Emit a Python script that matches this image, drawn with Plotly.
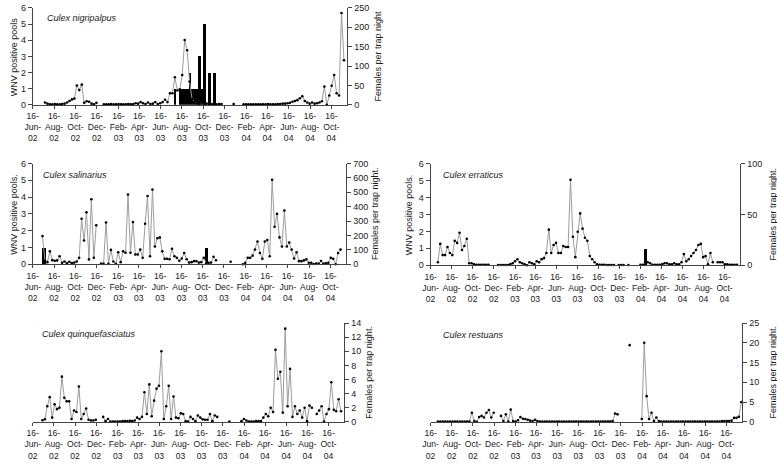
import datetime as dt
import plotly.graph_objects as go

# ---------------- data ----------------
START = dt.date(2002, 6, 16)
N_WEEKS = 129
week_dates = [START + dt.timedelta(days=7 * i) for i in range(N_WEEKS)]

tick_dates = ["2002-06-16", "2002-08-16", "2002-10-16", "2002-12-16", "2003-02-16",
              "2003-04-16", "2003-06-16", "2003-08-16", "2003-10-16", "2003-12-16",
              "2004-02-16", "2004-04-16", "2004-06-16", "2004-08-16", "2004-10-16"]
tick_labels = ["16-<br>Jun-<br>02", "16-<br>Aug-<br>02", "16-<br>Oct-<br>02", "16-<br>Dec-<br>02",
               "16-<br>Feb-<br>03", "16-<br>Apr-<br>03", "16-<br>Jun-<br>03", "16-<br>Aug-<br>03",
               "16-<br>Oct-<br>03", "16-<br>Dec-<br>03", "16-<br>Feb-<br>04", "16-<br>Apr-<br>04",
               "16-<br>Jun-<br>04", "16-<br>Aug-<br>04", "16-<br>Oct-<br>04"]

_ = None
# Females per trap night (weekly), w0..w128
nigripalpus = [
    _, _, _, _, _, 6, 3, 1, 1, 2,                      # w0-9
    1, 1, 2, 3, 6, 10, 14, 16, 50, 38,                 # w10-19
    52, 5, 9, 8, 3, 1, 5, _, _, 1,                     # w20-29
    1, 1, 2, 1, 1, 2, 1, 1, 1, 2,                      # w30-39
    1, 2, 4, 3, 7, 4, 2, 6, 2, 3,                      # w40-49
    7, 2, 4, 7, 13, 7, 30, 30, 71, 37,                 # w50-59
    40, 77, 167, 141, 60, 15, 8, 4, 3, 5,              # w60-69
    2, 3, 1, 2, 1, 1, 2, 2, _, _,                      # w70-79
    _, _, 2, _, _, _, 1, 1, 1, 1,                      # w80-89
    1, 1, 1, 1, 1, 1, 2, 1, 1, 1,                      # w90-99
    2, 2, 3, 3, 4, 5, 8, 10, 12, 17,                   # w100-109
    22, 10, 6, 3, 6, 3, 4, 6, 9, 47,                   # w110-119
    0, 24, 49, 77, 30, 24, 237, 115, _,                # w120-128
]
salinarius = [
    _, _, _, _, 196, 25, 15, 90, 29, 25,
    27, 56, 10, 20, 8, 18, 8, 12, 20, 45,
    316, 165, 361, 34, 452, 45, 271, _, 5, 3,
    290, 3, 100, 20, 3, 84, 15, 90, 80, 485,
    80, 293, 68, 68, 102, 45, 282, 474, 56, 519,
    124, 181, 187, 90, 38, 38, 35, 108, 56, 45,
    25, 40, 79, 35, 12, 15, 22, 22, 12, 15,
    45, 5, 10, 12, 52, 28, _, _, _, _,
    _, 18, _, _, _, _, 0, 10, 45, 45,
    60, 102, 158, 79, 38, 158, 169, 56, 587, 260,
    350, 187, 124, 373, 124, 151, 102, 40, 83, 22,
    22, 27, 34, 11, 11, 2, 5, 5, 23, 5,
    7, 11, 45, 38, 0, 79, 102, _, _,
]
quinquefasciatus = [
    _, _, _, _, 0.23, 0.37, 2.2, 3.5, 0.6, 2.5,
    1.8, 2.0, 6.4, 3.4, 2.9, 2.9, 0.4, 1.6, 1.4, 5.0,
    0.4, 1.1, 1.9, 0.3, 0.2, 0.2, 0.3, _, _, 0.7,
    0.1, 0.4, 0.05, 0.05, 0.05, 0.05, 0.05, 0.1, 0.1, 0.1,
    0.15, 0.1, 0.2, 0.6, 0.4, 0.7, 4.2, 1.1, 5.3, 0.8,
    3.0, 4.7, 5.1, 10.0, 0.4, 2.2, 5.1, 0.4, 3.6, 0.6,
    0.5, 1.2, 1.1, 0.1, 0.05, 0.7, 0.4, 0.1, 0.9, 0.6,
    0.35, 0.3, 0.3, 1.1, 0.1, 0.9, 0.7, _, _, _,
    _, 0.05, _, _, _, _, 0.1, 0.4, 0.2, 0.05,
    0.05, 0.05, 0.1, 0.1, 0.1, 0.6, 1.1, 0.8, 2.0, 1.4,
    10.2, 6.1, 7.1, 1.3, 13.2, 2.2, 7.5, 0.7, 2.2, 1.1,
    1.6, 0.6, 2.0, 0.1, 2.3, 2.0, _, 1.1, 1.6, 2.2,
    0.05, 1.1, 1.8, 5.6, 1.7, 1.5, 3.2, 1.5, _,
]
erraticus = [
    _, _, _, 3, 21, 10, 10, 18, 12, 10,
    24, 22, 32, 15, 19, 26, 2, 2, 1, 0.5,
    0.5, 0.5, 0.5, 0.5, 0.5, _, _, _, 0.3, 0.3,
    0.3, 0.3, 0.3, 1, 2, 4, 6, 3, 2, 1,
    0, 3, 2, 1, 4, 3, 6, 7, 12, 35,
    12, 20, 22, 12, 12, 19, 18, 18, 84, 28,
    8, 33, 51, 36, 27, 24, 9, 6, 3, 1,
    0.5, 0.5, 0.5, 0.3, 0.3, 0.3, 0.3, _, 0.3, 0.3,
    0.3, _, 0.3, _, _, _, _, 0.5, 0.5, 3,
    3, 2, 0.5, 0.5, 0.5, 0.5, 1, 2, 2, 1,
    1, 2, 1, 1, 3, 11, 4, 6, 9, 12,
    15, 20, 21, 8, 9, 1, 12, 3, _, 3,
    3, 3, 1, 1, 0.5, 0.5, 0.5, 0.5, _,
]
restuans = [
    _, _, _, 0.05, 0.05, 0.05, 0.05, 0.05, 0.05, 0.05,
    0.05, 0.05, 0.05, 0.05, 0.05, 0.05, 0.05, 2.3, 0.2, 0,
    1.2, 1.5, 1.1, 2.3, 3.0, 1.1, 2.3, _, _, 1.5,
    0.2, 1.9, 0.1, 3.1, 0.2, 0.1, 0.4, 1.2, 0.8, 0.7,
    0.5, 0.3, 0.2, 0.5, 0.2, 0.05, 0.05, 0.05, 0.05, 0.05,
    0.05, 0.05, 0.05, 0.05, 0.05, 0.05, 0.05, 0.05, 0.05, 0.05,
    0.05, 0.05, 0.05, 0.05, 0.05, 0.05, 0.05, 0.05, 0.05, 0.05,
    0.05, 0.05, 0.05, 0.05, 0.05, 0.2, 2.1, 1.9, _, _,
    _, _, 19.4, _, _, _, _, 0.7, 20.0, 6.5,
    0.7, 2.3, 0.2, 1.1, 0.2, 0.05, 0.05, 0.05, 0.05, 0.05,
    0.05, 0.05, 0.05, 0.05, 0.05, 0.05, 0.05, 0.05, 0.05, 0.05,
    0.05, 0.05, 0.05, 0.05, 0.05, 0.05, 0.05, 0.05, 0.05, 0.05,
    0.2, 0.2, 0.2, 0.2, 0.3, 1.0, 1.0, 1.3, 5.0,
]

# WNV positive pools (week index, pools)
nig_pool_weeks = [58, 60, 61, 62, 63, 64, 65, 66, 67, 68, 69, 70, 72, 74]
nig_pool_counts = [1, 1, 1, 1, 1, 2, 1, 1, 1, 3, 1, 5, 2, 2]
sal_pool_weeks = [4, 5, 71]
sal_pool_counts = [1, 1, 1]
err_pool_weeks = [89]
err_pool_counts = [1]

# ---------------- figure ----------------
W, H = 777, 465
FONT = "Liberation Sans, Arial, sans-serif"
AXC = "#444444"
LINEC = "#9c9c9c"
TXT = "#1a1a1a"


def fx(px):
    return px / W


def fy(py):
    return 1 - py / H


fig = go.Figure()

panels = [
    dict(name="Culex nigripalpus", data=nigripalpus, pw=nig_pool_weeks, pc=nig_pool_counts,
         x0=25, x1=343, ytop=3, ybot=102, fmax=250, fdt=50, left=True,
         ltitle="WNV positive pools", rtitle="Females per trap night",
         lt_x=6, rt_x=374, tt=(37, 13)),
    dict(name="Culex salinarius", data=salinarius, pw=sal_pool_weeks, pc=sal_pool_counts,
         x0=25, x1=342, ytop=162, ybot=265, fmax=700, fdt=100, left=True,
         ltitle="WNV positive pools.", rtitle="Females per trap night.",
         lt_x=6, rt_x=371, tt=(33, 174)),
    dict(name="Culex erraticus", data=erraticus, pw=err_pool_weeks, pc=err_pool_counts,
         x0=427, x1=740, ytop=162, ybot=266, fmax=100, fdt=50, left=True,
         ltitle="WNV positive pools.", rtitle="Females per trap night.",
         lt_x=406, rt_x=773, tt=(438, 174)),
    dict(name="Culex quinquefasciatus", data=quinquefasciatus, pw=None, pc=None,
         x0=25, x1=340, ytop=325, ybot=426, fmax=14, fdt=2, left=False,
         ltitle=None, rtitle="Females per trap night.",
         lt_x=None, rt_x=365, tt=(32, 336)),
    dict(name="Culex restuans", data=restuans, pw=None, pc=None,
         x0=427, x1=742, ytop=325, ybot=426, fmax=25, fdt=5, left=False,
         ltitle=None, rtitle="Females per trap night.",
         lt_x=None, rt_x=773, tt=(438, 337)),
]

annotations = []
yidx = 0
layout_axes = {}
for i, p in enumerate(panels):
    xi = i + 1
    xname = "x" if xi == 1 else f"x{xi}"
    xkey = "xaxis" if xi == 1 else f"xaxis{xi}"
    ydom = [fy(p["ybot"]), fy(p["ytop"])]

    if p["left"]:
        yidx += 1
        yl = "y" if yidx == 1 else f"y{yidx}"
        ylkey = "yaxis" if yidx == 1 else f"yaxis{yidx}"
        layout_axes[ylkey] = dict(
            domain=ydom, anchor=xname, range=[0, 6], tickvals=[0, 1, 2, 3, 4, 5, 6],
            showline=True, linecolor=AXC, linewidth=1, ticks="outside", ticklen=4,
            tickcolor=AXC, showgrid=False, zeroline=False,
            tickfont=dict(family=FONT, size=9, color=TXT))
        fig.add_trace(go.Bar(
            x=[week_dates[w] for w in p["pw"]], y=p["pc"], xaxis=xname, yaxis=yl,
            marker=dict(color="#000000", line=dict(width=0)),
            width=7 * 86400000, showlegend=False))
    yidx += 1
    yr = "y" if yidx == 1 else f"y{yidx}"
    yrkey = "yaxis" if yidx == 1 else f"yaxis{yidx}"
    ra = dict(
        domain=ydom, anchor=xname, side="right", range=[0, p["fmax"]],
        tickvals=list(range(0, p["fmax"] + 1, p["fdt"])),
        showline=True, linecolor=AXC, linewidth=1, ticks="outside", ticklen=4,
        tickcolor=AXC, showgrid=False, zeroline=False,
        tickfont=dict(family=FONT, size=9, color=TXT))
    if p["left"]:
        ra["overlaying"] = yl
    layout_axes[yrkey] = ra

    layout_axes[xkey] = dict(
        domain=[fx(p["x0"]), fx(p["x1"])], anchor=(yl if p["left"] else yr),
        type="date", range=["2002-06-16", "2004-12-01"],
        tickvals=tick_dates, ticktext=tick_labels, tickangle=0,
        showline=True, linecolor=AXC, linewidth=1, ticks="outside", ticklen=3,
        tickcolor=AXC, showgrid=False, zeroline=False,
        tickfont=dict(family=FONT, size=8.6, color=TXT))

    fig.add_trace(go.Scatter(
        x=week_dates, y=p["data"], xaxis=xname, yaxis=yr, mode="lines+markers",
        line=dict(color=LINEC, width=1), marker=dict(color="#000000", size=2.6),
        connectgaps=False, showlegend=False, cliponaxis=False))

    ymid = (p["ytop"] + p["ybot"]) / 2
    if p["ltitle"]:
        annotations.append(dict(
            text=p["ltitle"], x=fx(p["lt_x"]), y=fy(ymid), xref="paper", yref="paper",
            textangle=-90, showarrow=False, xanchor="center", yanchor="middle",
            font=dict(family=FONT, size=9, color=TXT)))
    annotations.append(dict(
        text=p["rtitle"], x=fx(p["rt_x"]), y=fy(ymid), xref="paper", yref="paper",
        textangle=-90, showarrow=False, xanchor="center", yanchor="middle",
        font=dict(family=FONT, size=9, color=TXT)))
    annotations.append(dict(
        text="<i>" + p["name"] + "</i>", x=fx(p["tt"][0]), y=fy(p["tt"][1]),
        xref="paper", yref="paper", showarrow=False, xanchor="left", yanchor="middle",
        font=dict(family=FONT, size=9, color=TXT)))

fig.update_layout(
    width=W, height=H, margin=dict(l=0, r=0, t=0, b=0),
    paper_bgcolor="white", plot_bgcolor="white", showlegend=False,
    bargap=0, annotations=annotations, **layout_axes)

fig.write_html(
    "out.html",
    config={"displayModeBar": False},
    post_script="document.body.style.margin='0px';document.body.style.overflow='hidden';")
